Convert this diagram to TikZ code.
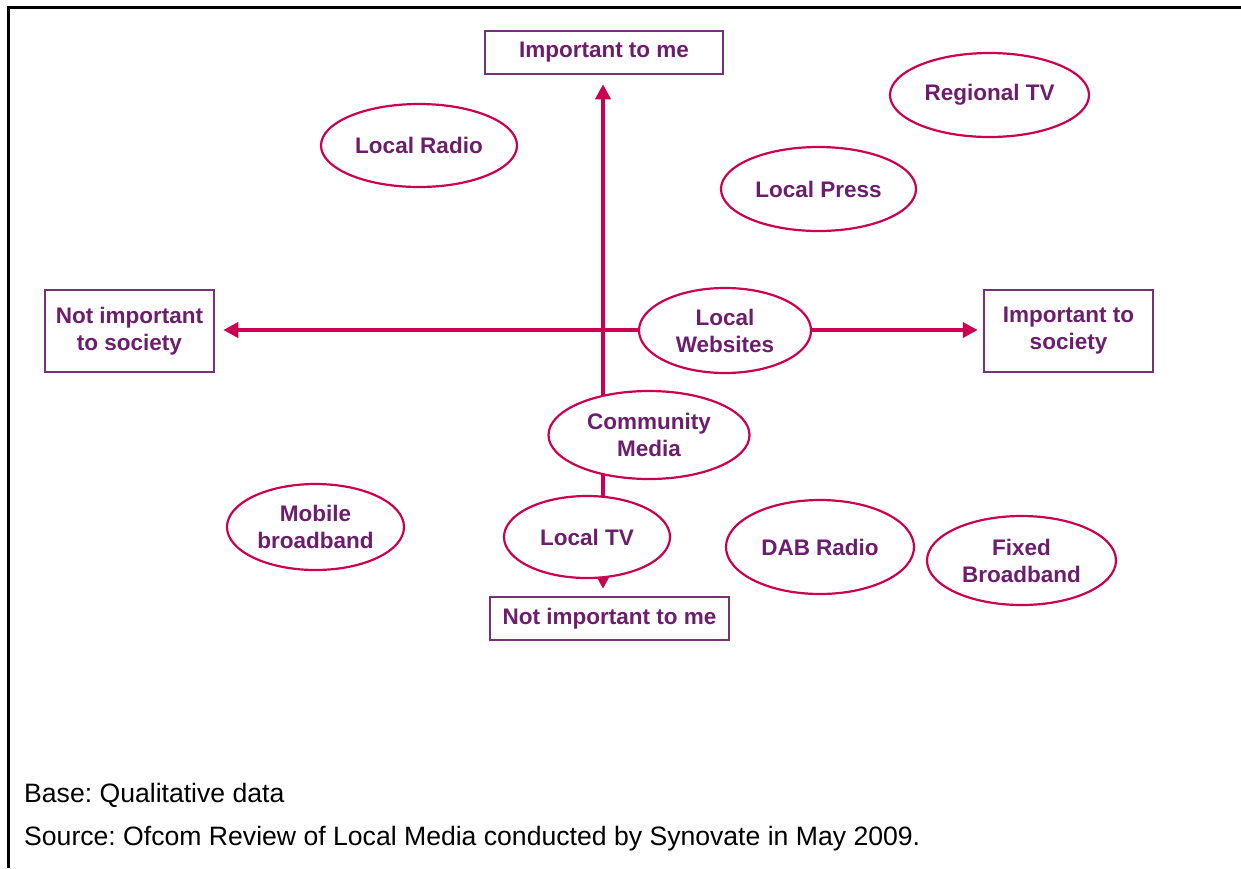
\documentclass[tikz,border=0pt]{standalone}
\usepackage{fontspec}
\setmainfont{Liberation Sans}
\usetikzlibrary{shapes.geometric,arrows.meta}
\definecolor{mred}{RGB}{204,0,80}
\definecolor{mpurp}{RGB}{108,30,108}
\definecolor{mbox}{RGB}{118,50,118}
\frenchspacing
\tikzset{
  lbl/.style={font=\fontsize{22.5}{27}\selectfont\bfseries, text=mpurp, align=center},
  axbox/.style={lbl, draw=mbox, line width=2.5pt, rectangle, inner sep=0pt},
  bubble/.style={lbl, ellipse, draw=mred, line width=2.2pt, fill=white, inner sep=0pt},
  axis/.style={mred, line width=4pt, -{Triangle[length=15pt,width=15pt]}},
  foot/.style={font=\fontsize{26.6}{30}\selectfont, anchor=west, inner sep=0pt}
}
\begin{document}
\begin{tikzpicture}[x=1pt,y=-1pt]
\useasboundingbox (0,0) rectangle (1241,868);
\draw[line width=3pt] (8,868) -- (8,7) -- (1241,7);
% axis boxes
\node[axbox, minimum width=238pt, minimum height=43pt] (top) at (604,52.5) {Important to me};
\node[axbox, minimum width=239pt, minimum height=43pt] (bot) at (609.5,618.5) {Not important to me};
\node[axbox, minimum width=169pt, minimum height=82pt] (lft) at (129.5,331) {Not important\\to society};
\node[axbox, minimum width=169pt, minimum height=82pt] (rgt) at (1068.5,331) {Important to\\society};
% axes
\coordinate (c) at (603,330);
\draw[axis, shorten >=9pt] (c) -- (top.south -| c);
\draw[axis, shorten >=7pt] (c) -- (bot.north -| c);
\draw[axis, shorten >=8pt] (c) -- (lft.east |- c);
\draw[axis, shorten >=5pt] (c) -- (rgt.west |- c);
% bubbles
\node[bubble, minimum width=196pt, minimum height=83pt] (lradio) at (419,145.5) {Local Radio};
\node[bubble, minimum width=199pt, minimum height=84pt] (rtv) at (989.5,95) {Regional TV};
\node[bubble, minimum width=195pt, minimum height=84pt] (lpress) at (818.5,189) {Local Press};
\node[bubble, minimum width=172pt, minimum height=85pt] (lweb) at (725,330.5) {Local\\Websites};
\node[bubble, minimum width=201pt, minimum height=88pt] (cmedia) at (649,435) {Community\\Media};
\node[bubble, minimum width=177pt, minimum height=86pt] (mbb) at (315.5,527) {Mobile\\broadband};
\node[bubble, minimum width=166pt, minimum height=82pt] (ltv) at (587,537) {Local TV};
\node[bubble, minimum width=188pt, minimum height=94pt] (dab) at (820,547) {DAB Radio};
\node[bubble, minimum width=189pt, minimum height=89pt] (fbb) at (1021.5,560.5) {Fixed\\Broadband};
% footer
\node[foot] (base) at (24,795) {Base: Qualitative data};
\node[foot] (src) at (24,839) {Source: Ofcom Review of Local Media conducted by Synovate in May 2009.};
\end{tikzpicture}
\end{document}
